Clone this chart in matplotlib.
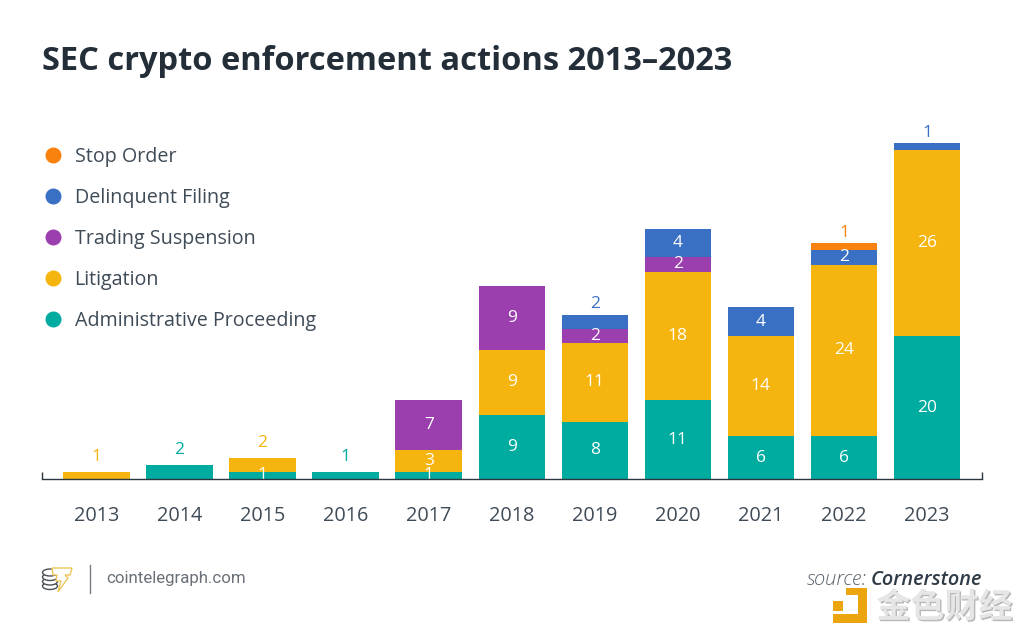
import numpy as np
import matplotlib
matplotlib.use('Agg')
import matplotlib.pyplot as plt
import matplotlib.patheffects as pe
from matplotlib.lines import Line2D
from matplotlib.patches import Ellipse, Polygon, Rectangle

plt.rcParams['font.family'] = ['Open Sans', 'DejaVu Sans']

# ===== DATA =====
years = ['2013', '2014', '2015', '2016', '2017', '2018', '2019', '2020', '2021', '2022', '2023']
admin = [0, 2, 1, 1, 1, 9, 8, 11, 6, 6, 20]
litigation = [1, 0, 2, 0, 3, 9, 11, 18, 14, 24, 26]
suspension = [0, 0, 0, 0, 7, 9, 2, 2, 0, 0, 0]
delinquent = [0, 0, 0, 0, 0, 0, 2, 4, 4, 2, 1]
stop_order = [0, 0, 0, 0, 0, 0, 0, 0, 0, 1, 0]

series_names = ['Administrative Proceeding', 'Litigation', 'Trading Suspension',
                'Delinquent Filing', 'Stop Order']
series_values = [admin, litigation, suspension, delinquent, stop_order]
colors = ['#00ab9f', '#f5b50e', '#9b3fae', '#3a70c4', '#f9820f']
text_dark = '#3f4b57'

fig = plt.figure(figsize=(10.24, 6.36), dpi=100)
W, H = 1024, 636

# plot area in pixels: x 42-982, baseline at y=479, 7.15 px per action
ax = fig.add_axes([42 / W, (H - 479) / H, 940 / W, 379 / H])
x = np.arange(len(years))
bottom = np.zeros(len(years))
totals = np.sum(series_values, axis=0)

for vals, color in zip(series_values, colors):
    vals = np.array(vals)
    ax.bar(x, vals, width=0.8, bottom=bottom, color=color, zorder=2)
    for i, v in enumerate(vals):
        if v == 0:
            continue
        is_top = bottom[i] + v == totals[i]
        if is_top and v <= 2:
            # small top segments get a coloured label above the bar
            offset = 10.5 if totals[i] < 10 else 7.5
            ax.annotate(str(v), (i, totals[i]), xytext=(0, offset), textcoords='offset points',
                        ha='center', va='center', color=color, fontsize=12.5)
        else:
            ax.text(i, bottom[i] + v / 2, str(v), ha='center', va='center',
                    color='white', fontsize=12.5, zorder=3, clip_on=True)
    bottom += vals

ax.set_xlim((42 - 96.5) / 83.05, (982 - 96.5) / 83.05)
ax.set_ylim(0, 379 / 7.15)
ax.set_xticks(x)
ax.set_xticklabels(years, fontsize=14.3, color=text_dark)
ax.tick_params(axis='x', which='major', length=0, pad=19.5)
ax.set_xticks(ax.get_xlim(), minor=True)
ax.tick_params(axis='x', which='minor', direction='in', length=5, width=1, color='#2c3640')
ax.set_yticks([])
for side in ['top', 'left', 'right']:
    ax.spines[side].set_visible(False)
ax.spines['bottom'].set_color('#2c3640')
ax.spines['bottom'].set_linewidth(1)
ax.spines['bottom'].set_zorder(5)
ax.patch.set_alpha(0)

# ===== TITLE =====
fig.text(42 / W, 1 - 61 / H, 'SEC crypto enforcement actions 2013\u20132023', fontsize=23.5,
         fontweight='bold', color='#232e38', va='center', ha='left')

# ===== LEGEND =====
handles = [Line2D([], [], linestyle='none', marker='o', markersize=10.5, color=c)
           for c in colors[::-1]]
fig.legend(handles, series_names[::-1], loc='upper left', bbox_to_anchor=(39 / W, 1 - 147 / H),
           frameon=False, fontsize=14.25, labelcolor=text_dark, labelspacing=1.06,
           handletextpad=0.4, handlelength=1.4, borderpad=0, borderaxespad=0)

# ===== FOOTER (pixel coordinates) =====
ov = fig.add_axes([0, 0, 1, 1])
ov.set_xlim(0, W)
ov.set_ylim(H, 0)
ov.axis('off')
ov.patch.set_alpha(0)

for cy in [586, 581.5, 577, 572.5]:
    ov.add_patch(Ellipse((50, cy), 15, 7, fc='white', ec='#4a4f55', lw=1))
ov.add_patch(Polygon([(52, 568), (72, 568), (70, 575), (65, 575), (68, 578), (58, 592), (61, 581),
                      (56, 581), (57, 575), (53, 575)], closed=True, fc='white', ec='#ecc65a', lw=1))
ov.plot([89.5, 89.5], [565, 593], color='#777c82', lw=1)
ov.text(106, 578.5, 'cointelegraph.com', fontsize=12.15, color='#6a7178', family='Roboto',
        va='center', ha='left')

ov.text(982, 580, 'Cornerstone', fontsize=14.3, style='italic', fontweight='semibold',
        color='#2f3b46', va='center', ha='right')
ov.text(867, 580, 'source:', fontsize=14.5, style='italic', fontweight='light', color='#5a636c',
        va='center', ha='right')

# watermark
wm = '#eba60f'
ov.add_patch(Rectangle((833, 601), 9.5, 10, fc=wm, ec='none'))
ov.add_patch(Polygon([(846, 588), (867, 588), (867, 623), (833, 623), (833, 614), (858, 614),
                      (858, 595), (846, 595)], closed=True, fc=wm, ec='none'))
ov.text(944.5, 607, '金色财经', fontsize=24.5, family=['Noto Sans CJK SC', 'DejaVu Sans'], color='#e6e6e6',
        va='center', ha='center', fontweight='bold',
        path_effects=[pe.withSimplePatchShadow(offset=(1, -1), shadow_rgbFace='#8a8a8a', alpha=0.6)])

fig.savefig('out.png', dpi=100, facecolor='white')
